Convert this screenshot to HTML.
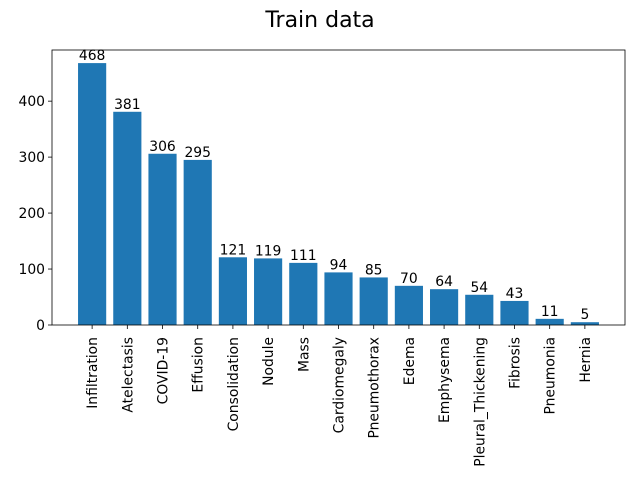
<!DOCTYPE html>
<html><head><meta charset="utf-8"><style>
body{margin:0;background:#fff;font-family:"Liberation Sans","DejaVu Sans",sans-serif}
</style></head><body>
<svg id="chart" width="640" height="480" xmlns="http://www.w3.org/2000/svg" font-family="DejaVu Sans, Liberation Sans, sans-serif">
<rect width="640" height="480" fill="#fff"/>
<text x="320" y="27" text-anchor="middle" font-size="22">Train data</text>
<g id="plot"></g>
</svg>
<script>
const categories=["Infiltration","Atelectasis","COVID-19","Effusion","Consolidation","Nodule","Mass","Cardiomegaly","Pneumothorax","Edema","Emphysema","Pleural_Thickening","Fibrosis","Pneumonia","Hernia"];
const values=[468,381,306,295,121,119,111,94,85,70,64,54,43,11,5];
const yTicks=[0,100,200,300,400];

const L=52,R=625,T=50,B=325;
const n=categories.length;
const xmin=-0.4-0.05*(n-0.2), xmax=n-1+0.4+0.05*(n-0.2);
const ymax=Math.max(...values)*1.05;
const xs=v=>L+(v-xmin)/(xmax-xmin)*(R-L);
const ys=v=>B-v/ymax*(B-T);
const NS="http://www.w3.org/2000/svg";
const g=document.getElementById('plot');
function mk(t,a,txt){const e=document.createElementNS(NS,t);for(const k in a)e.setAttribute(k,a[k]);if(txt!=null)e.textContent=txt;g.appendChild(e);return e;}
values.forEach((v,i)=>{
  const x0=xs(i-0.4),x1=xs(i+0.4);
  const b=mk('rect',{x:x0,y:ys(v),width:x1-x0,height:B-ys(v),fill:'#1f77b4'});
  
  
  const lb=mk('text',{x:xs(i),y:ys(v)-3,'text-anchor':'middle','font-size':13.9},String(v));
  
  
  mk('line',{x1:xs(i),x2:xs(i),y1:B,y2:B+4,stroke:'#000','stroke-width':0.8});
  const tl=mk('text',{x:0,y:0,'font-size':13.9,'text-anchor':'end',transform:`translate(${xs(i)+5},${B+12}) rotate(-90)`},categories[i]);
  
  
});
yTicks.forEach(t=>{
  mk('line',{x1:L-4,x2:L,y1:ys(t),y2:ys(t),stroke:'#000','stroke-width':0.8});
  const tl=mk('text',{x:L-7,y:ys(t)+5,'text-anchor':'end','font-size':13.9},String(t));
  
  
});
const fr=mk('rect',{x:L,y:T,width:R-L,height:B-T,fill:'none',stroke:'#000','stroke-width':0.8});


</script>
</body></html>
